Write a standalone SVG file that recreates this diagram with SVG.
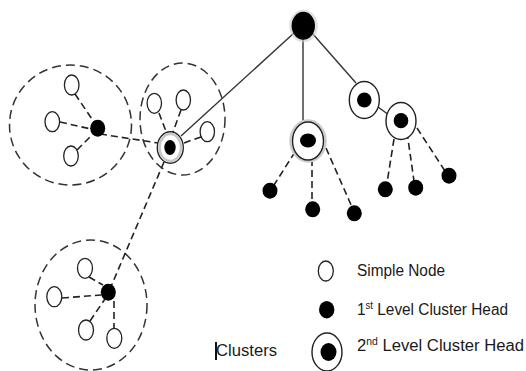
<svg xmlns="http://www.w3.org/2000/svg" width="526" height="371" viewBox="0 0 526 371">
<defs>
<style>
.solid{stroke:#333;stroke-width:1.4;fill:none}
.dash{stroke:#222;stroke-width:1.6;fill:none;stroke-dasharray:7 4}
.cl{stroke:#333;stroke-width:1.5;fill:none;stroke-dasharray:9 5}
.sn{fill:#fff;stroke:#222;stroke-width:1.3}
.ch{fill:#000}
.ring{fill:#fff;stroke:#222;stroke-width:1.4}
.halo{fill:none;stroke:#ccc;stroke-width:2.5}
.lbl{font-family:"Liberation Sans",Arial,sans-serif;font-size:16px;fill:#1a1a1a}
.sup{font-size:10px}
</style>
</defs>
<rect width="526" height="371" fill="#fff"/>
<g id="clusters">
<ellipse class="cl" cx="70.5" cy="125" rx="61" ry="60"/>
<ellipse class="cl" cx="182.5" cy="119" rx="42.5" ry="56"/>
<ellipse class="cl" cx="91" cy="305" rx="56" ry="65"/>
</g>
<g id="connectors">
<line class="solid" x1="294" y1="33" x2="181" y2="136"/>
<line class="solid" x1="303" y1="39" x2="303" y2="122"/>
<line class="solid" x1="312" y1="33" x2="356" y2="83"/>
<line class="solid" x1="378" y1="107" x2="389" y2="115"/>
<line class="dash" x1="295" y1="152" x2="274" y2="185"/>
<line class="dash" x1="312" y1="148" x2="312" y2="203"/>
<line class="dash" x1="326" y1="148" x2="352" y2="207"/>
<line class="dash" x1="394" y1="139" x2="387" y2="183"/>
<line class="dash" x1="407" y1="132" x2="414" y2="181"/>
<line class="dash" x1="417" y1="128" x2="445" y2="171"/>
<line class="dash" x1="75" y1="94" x2="94" y2="122"/>
<line class="dash" x1="60" y1="122" x2="91" y2="129"/>
<line class="dash" x1="77" y1="150" x2="92" y2="135"/>
<line class="dash" x1="100" y1="134" x2="158" y2="143"/>
<line class="dash" x1="159" y1="113" x2="167" y2="134"/>
<line class="dash" x1="181" y1="110" x2="173" y2="132"/>
<line class="dash" x1="201" y1="137" x2="178" y2="145"/>
<line class="dash" x1="164" y1="162" x2="110" y2="289"/>
<line class="dash" x1="89" y1="277" x2="103" y2="285"/>
<line class="dash" x1="62" y1="298" x2="101" y2="295"/>
<line class="dash" x1="90" y1="321" x2="105" y2="299"/>
<line class="dash" x1="114" y1="301" x2="114" y2="328"/>
</g>
<g id="root"><ellipse class="halo" cx="303.5" cy="26" rx="13" ry="15" opacity="0.6"/><ellipse class="ch" cx="303.3" cy="25.8" rx="11.7" ry="14"/></g>
<g id="head-mid"><ellipse class="halo" cx="308" cy="141" rx="17.5" ry="20.5"/><ellipse class="ring" cx="308" cy="141" rx="15.5" ry="19"/><ellipse class="ch" cx="308" cy="140.5" rx="8" ry="7"/></g>
<g id="head-r1"><ellipse class="ring" cx="364.3" cy="100" rx="15" ry="18.5"/><ellipse class="ch" cx="364.3" cy="100" rx="7.3" ry="7.6"/></g>
<g id="head-r2"><ellipse class="ring" cx="401" cy="121" rx="15" ry="18.5"/><ellipse class="ch" cx="401" cy="120.7" rx="7.3" ry="7.6"/></g>
<g id="leaf-m1"><ellipse class="ch" cx="270" cy="190.7" rx="7.5" ry="8"/></g>
<g id="leaf-m2"><ellipse class="ch" cx="312.7" cy="209.3" rx="7.5" ry="8"/></g>
<g id="leaf-m3"><ellipse class="ch" cx="354.3" cy="213.3" rx="7.5" ry="8"/></g>
<g id="leaf-r1"><ellipse class="ch" cx="385.3" cy="189.3" rx="7.5" ry="8"/></g>
<g id="leaf-r2"><ellipse class="ch" cx="415.7" cy="187.7" rx="7.5" ry="8"/></g>
<g id="leaf-r3"><ellipse class="ch" cx="449" cy="175.7" rx="7.5" ry="8"/></g>
<g id="c1-head"><ellipse class="ch" cx="97.7" cy="128.3" rx="7.5" ry="8.5"/></g>
<g id="c1-n1"><ellipse class="sn" cx="71.7" cy="85" rx="7.3" ry="10"/></g>
<g id="c1-n2"><ellipse class="sn" cx="52.3" cy="121.7" rx="7.3" ry="10"/></g>
<g id="c1-n3"><ellipse class="sn" cx="71" cy="156" rx="7.3" ry="10"/></g>
<g id="c2-head"><ellipse class="ring" cx="170.3" cy="147.5" rx="13" ry="15.8"/><ellipse fill="none" stroke="#c8c8c8" stroke-width="2.5" cx="170.3" cy="147.5" rx="10.8" ry="13.5"/><ellipse class="ch" cx="170" cy="147.5" rx="5.7" ry="7.5"/></g>
<g id="c2-n1"><ellipse class="sn" cx="154.3" cy="103.3" rx="7.2" ry="10"/></g>
<g id="c2-n2"><ellipse class="sn" cx="183.3" cy="100" rx="7.2" ry="10"/></g>
<g id="c2-n3"><ellipse class="sn" cx="207.3" cy="131.7" rx="7.2" ry="10"/></g>
<g id="c3-head"><ellipse class="ch" cx="108.3" cy="292.3" rx="7.5" ry="8.5"/></g>
<g id="c3-n1"><ellipse class="sn" cx="85" cy="268.3" rx="7.5" ry="10"/></g>
<g id="c3-n2"><ellipse class="sn" cx="54.3" cy="296.7" rx="7.5" ry="10"/></g>
<g id="c3-n3"><ellipse class="sn" cx="86" cy="330" rx="7.5" ry="10"/></g>
<g id="c3-n4"><ellipse class="sn" cx="114.3" cy="338.3" rx="7.5" ry="10"/></g>
<g id="legend">
<ellipse class="sn" cx="325.8" cy="271" rx="7.5" ry="10"/>
<text class="lbl" x="357" y="275.5" textLength="88" lengthAdjust="spacingAndGlyphs">Simple Node</text>
<ellipse class="ch" cx="326.7" cy="309.7" rx="7.7" ry="8.7"/>
<text class="lbl" x="357" y="315" textLength="151" lengthAdjust="spacingAndGlyphs">1<tspan class="sup" dy="-6">st</tspan><tspan dy="6"> Level Cluster Head</tspan></text>
<ellipse class="ring" cx="327" cy="352" rx="15" ry="19"/>
<ellipse class="ch" cx="328.5" cy="352" rx="8" ry="9"/>
<text class="lbl" x="357" y="350.5" textLength="167" lengthAdjust="spacingAndGlyphs">2<tspan class="sup" dy="-6">nd</tspan><tspan dy="6"> Level Cluster Head</tspan></text>
<text class="lbl" x="216" y="355.5" textLength="61" lengthAdjust="spacingAndGlyphs">Clusters</text>
<rect x="215" y="342" width="2" height="18" fill="#111"/>
</g>
</svg>
